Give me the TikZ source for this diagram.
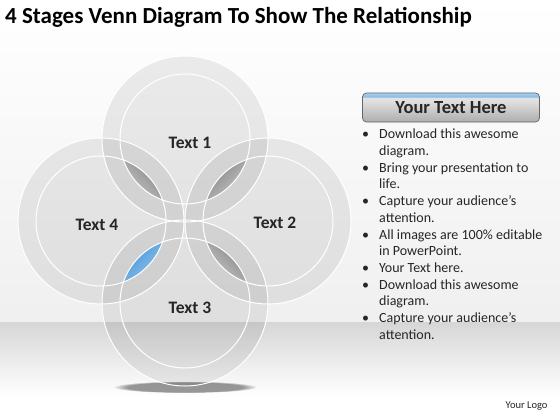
\documentclass[tikz,border=0pt]{standalone}
\usepackage{fontspec}
\setmainfont{Carlito}
\usetikzlibrary{fadings}

\definecolor{lensblue}{HTML}{2F86D3}
\definecolor{lenslight}{HTML}{A9D3F2}
\definecolor{headblue}{HTML}{86BDEA}

\pgfdeclareverticalshading{headshade}{100bp}{%
  color(0bp)=(black!32); color(25bp)=(black!32);
  color(60bp)=(black!13); color(67bp)=(black!11);
  color(68.5bp)=(headblue); color(75bp)=(headblue!70);
  color(100bp)=(headblue!70)}

\tikzset{
  ring/.style={fill=black, fill opacity=0.07},
  rim/.style={draw=white, line width=1pt},
  venntext/.style={font=\bfseries\fontsize{17.5}{20}\selectfont, text=black!85},
  titletext/.style={font=\bfseries\fontsize{23}{26}\selectfont, inner sep=0pt},
  headbox/.style={draw=black!60, line width=0.7pt, rounded corners=4pt,
    shading=headshade, minimum width=177pt, minimum height=29pt,
    font=\bfseries\fontsize{18.5}{20}\selectfont, text=black!85},
  graylens/.style={left color=black!55, right color=black!15},
  bluelens/.style={left color=lensblue, right color=lenslight},
}

\begin{document}
\begin{tikzpicture}[x=1pt,y=-1pt]
  \useasboundingbox (0,0) rectangle (560,420);

  % background and floor
  \shade[top color=white, bottom color=black!6] (0,0) rectangle (560,322);
  \shade[top color=black!16, bottom color=white] (0,322) rectangle (560,396);
  \fill[white] (0,396) rectangle (560,420);

  \coordinate (c1) at (185,139);
  \coordinate (c2) at (268,221);
  \coordinate (c3) at (185,303);
  \coordinate (c4) at (101,221);

  % shadow under the lower circle
  \fill[black, fill opacity=0.4, path fading=circle with fuzzy edge 20 percent]
    (185,387) ellipse (72 and 6);

  \foreach \c in {c1,c2,c3,c4}
    \fill[ring] (\c) circle (83);

  % lenses between the inner circles
  \begin{scope}
    \clip (c1) circle (65);
    \clip (c4) circle (65);
    \shade[graylens, shading angle=-45] (143,180) circle (30);
  \end{scope}
  \begin{scope}
    \clip (c1) circle (65);
    \clip (c2) circle (65);
    \shade[graylens, shading angle=45] (226.5,180) circle (30);
  \end{scope}
  \begin{scope}
    \clip (c2) circle (65);
    \clip (c3) circle (65);
    \shade[graylens, shading angle=-45] (226.5,262) circle (30);
  \end{scope}
  \begin{scope}
    \clip (c3) circle (65);
    \clip (c4) circle (65);
    \shade[bluelens, shading angle=45] (143,262) circle (30);
  \end{scope}

  \foreach \c in {c1,c2,c3,c4} {
    \draw[rim] (\c) circle (83);
    \draw[rim] (\c) circle (65);
  }

  \node[venntext] (t1) at (190,143) {Text 1};
  \node[venntext] (t2) at (275,223) {Text 2};
  \node[venntext] (t3) at (190,308) {Text 3};
  \node[venntext] (t4) at (97,225) {Text 4};

  \node[titletext, anchor=west] (title) at (5,17)
    {4 Stages Venn Diagram To Show The Relationship};

  \node[headbox] (head) at (451,107.5) {Your Text Here};

  \node[anchor=north west, inner sep=0pt, text=black!85] (list) at (362,127)
    {\fontsize{14}{16.7}\selectfont
     \begin{tabular}{@{}p{17pt}@{}l@{}}
       \textbullet & Download this awesome\\
                   & diagram.\\
       \textbullet & Bring your presentation to\\
                   & life.\\
       \textbullet & Capture your audience’s\\
                   & attention.\\
       \textbullet & All images are 100\% editable\\
                   & in PowerPoint.\\
       \textbullet & Your Text here.\\
       \textbullet & Download this awesome\\
                   & diagram.\\
       \textbullet & Capture your audience’s\\
                   & attention.
     \end{tabular}};

  \node[anchor=east, font=\fontsize{10.5}{12}\selectfont, text=black!85] (logo)
    at (551,406) {Your Logo};
\end{tikzpicture}
\end{document}
